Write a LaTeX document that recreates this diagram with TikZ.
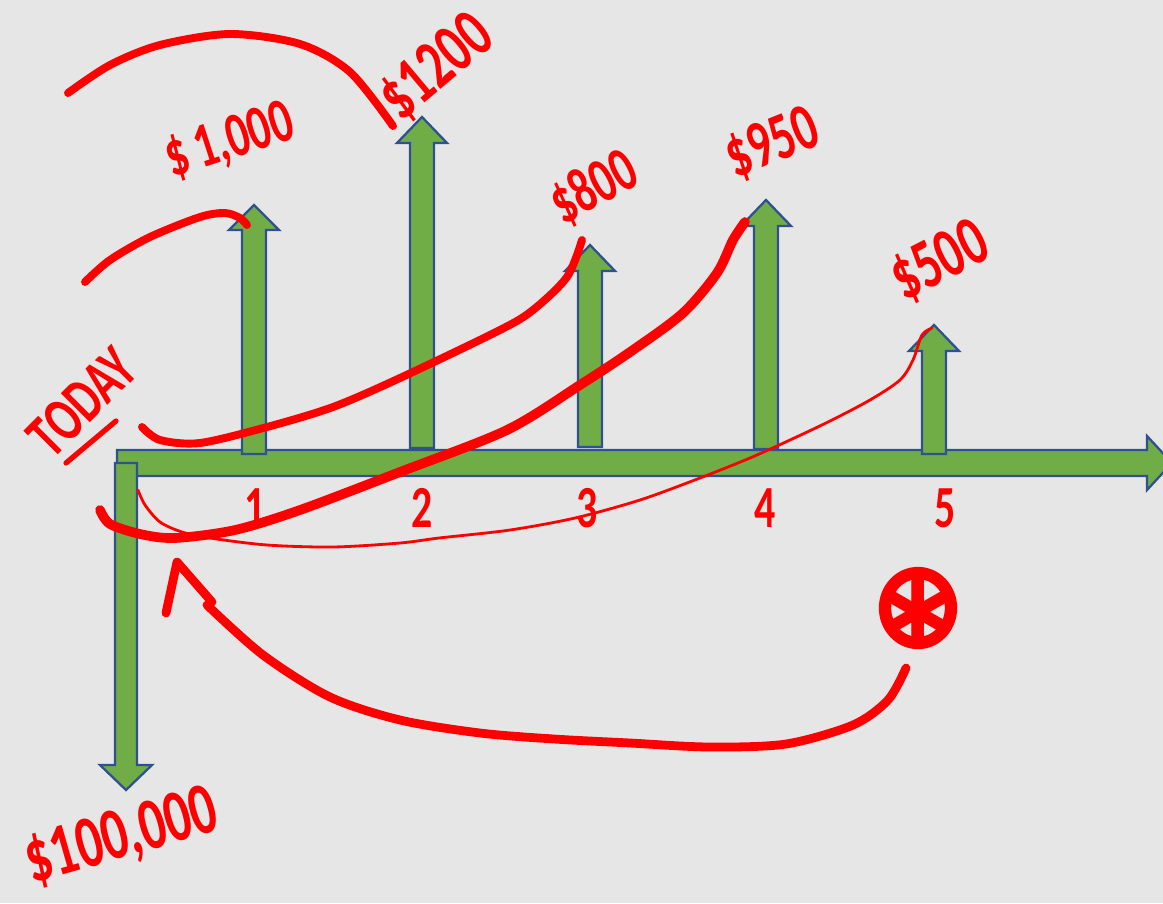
\documentclass[tikz,border=0pt]{standalone}
\usepackage{fontspec}
\setmainfont{Carlito}
\newfontfamily\symfont{DejaVu Sans}
\definecolor{slide}{HTML}{E6E6E6}
\definecolor{flowgreen}{HTML}{70AD47}
\definecolor{flowblue}{HTML}{2F528F}
\definecolor{inkred}{HTML}{FF0000}
\newcommand\hand[2]{\fontsize{#1}{#1}\selectfont\bfseries\scalebox{0.7}[1]{#2}}
% centre x, foot y, head base y, tip y
\newcommand\cashup[4]{%
  \draw[flow] (#1-12,#2) -- (#1-12,#3) -- (#1-25,#3) -- (#1,#4) -- (#1+25,#3)
    -- (#1+12,#3) -- (#1+12,#2) -- cycle;}
\begin{document}
\begin{tikzpicture}[x=0.02cm, y=-0.02cm,
  flow/.style={fill=flowgreen, draw=flowblue, line width=1.3pt, line join=miter},
  ink/.style={draw=inkred, line width=4.5pt, line cap=round, line join=round},
  fineink/.style={draw=inkred, line width=1.6pt, line cap=round, line join=round},
  tag/.style={text=inkred, inner sep=0pt}]

  \fill[slide] (0,0) rectangle (1163,903);
  \clip (0,0) rectangle (1163,903);

  \draw[flow] (117,450) -- (1147,450) -- (1147,436) -- (1172,463) -- (1147,490)
    -- (1147,476) -- (117,476) -- cycle;
  \draw[flow] (115,463) -- (137,463) -- (137,765) -- (152,765) -- (126,790)
    -- (100,765) -- (115,765) -- cycle;
  \cashup{254}{454}{230}{205}
  \cashup{422}{448}{143}{117}
  \cashup{590}{447}{271}{245}
  \cashup{766}{449}{226}{200}
  \cashup{934}{454}{351}{325}

  \node[tag, rotate=18] (cf1) at (230,142) {\hand{36}{\$\,1,000}};
  \node[tag, rotate=40] (cf2) at (437,68) {\hand{40}{\$1200}};
  \node[tag, rotate=28] (cf3) at (594,188) {\hand{36}{\$800}};
  \node[tag, rotate=22] (cf4) at (773,144) {\hand{38}{\$950}};
  \node[tag, rotate=27] (cf5) at (940,262) {\hand{40}{\$500}};
  \node[tag, rotate=16] (pv) at (122,838) {\hand{42}{\$100,000}};
  \node[tag, rotate=45] (today) at (82,402) {\hand{36}{TODAY}};
  \draw[ink, line width=3pt] (66,463) -- (116,421);
  \foreach \i/\x in {1/255,2/422,3/587,4/765,5/945}
    \node[tag] (t\i) at (\x,508) {\hand{34}{\i}};

  \draw[ink] plot[smooth] coordinates {(68,93) (110,65) (160,45) (230,34)
    (300,44) (350,72) (393,126)};
  \draw[ink] plot[smooth] coordinates {(85,282) (110,260) (150,237) (200,217)
    (225,213) (240,218) (247,225)};
  \draw[ink] plot[smooth] coordinates {(142,427) (160,440) (200,443) (267,427)
    (333,407) (400,378) (500,330) (533,310) (567,277) (582,240)};
  \draw[ink, line width=5.5pt] plot[smooth] coordinates {(100,510) (110,524)
    (140,534) (175,538) (235,530) (300,510) (400,472) (507,430) (580,385)
    (633,350) (683,313) (717,273) (733,240) (745,222)};
  \draw[fineink] plot[smooth] coordinates {(138,490) (145,505) (160,522)
    (182,532) (210,538) (267,545) (333,547) (400,543) (439,538) (510,530)
    (575,518) (640,500) (700,478) (750,458) (790,440) (830,421) (870,400)
    (900,380) (913,360) (922,335) (932,328)};

  \draw[ink, line width=5pt] (166,613) -- (177,562) -- (212,602);
  \draw[ink, line width=5pt] plot[smooth] coordinates {(207,605) (263,655)
    (330,697) (400,720) (480,733) (554,739) (630,743) (709,747) (786,744)
    (853,725) (888,700) (906,668)};
  \draw[ink, line width=7pt] (918,608) ellipse [x radius=33, y radius=35];
  \node[tag] (star) at (918,612) {\symfont\bfseries\fontsize{62}{62}\selectfont ∗};
\end{tikzpicture}
\end{document}
